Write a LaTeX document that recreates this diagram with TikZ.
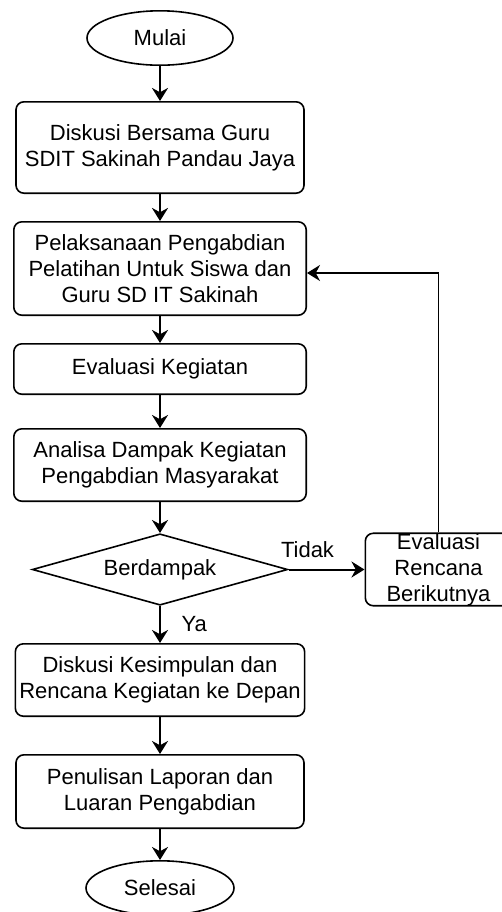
\documentclass[tikz,border=0pt]{standalone}
\usepackage{fontspec}
\setmainfont{Liberation Sans}
\usetikzlibrary{shapes.geometric, arrows.meta, positioning}

\begin{document}
\begin{tikzpicture}[
    node distance=14pt,
    box/.style={rectangle, rounded corners=4pt, draw=black, line width=0.8pt, minimum width=144pt, inner sep=2pt, align=center, font=\fontsize{11}{13}\selectfont},
    terminal/.style={ellipse, draw=black, line width=0.8pt, minimum width=73pt, minimum height=27.2pt, inner sep=0pt, font=\fontsize{11}{13}\selectfont},
    decision/.style={diamond, draw=black, line width=0.8pt, minimum width=127.7pt, minimum height=35.7pt, aspect=3.5, inner sep=0pt, font=\fontsize{11}{13}\selectfont},
    arrow/.style={-{Stealth[length=6.5pt, width=8pt]}, line width=1pt, black},
    answer/.style={font=\fontsize{11}{13}\selectfont}
]
\useasboundingbox (0,0) rectangle (251pt,-456pt);
\clip (0,0) rectangle (251pt,-456pt);

% Main column
\node[terminal] (mulai) at (80pt,-19pt) {Mulai};
\node[box, minimum height=45.7pt, below=17.5pt of mulai] (diskusi) {Diskusi Bersama Guru\\SDIT Sakinah Pandau Jaya};
\node[box, minimum width=146.2pt, minimum height=46.7pt, below=13.5pt of diskusi] (pelaksanaan) {Pelaksanaan Pengabdian\\Pelatihan Untuk Siswa dan\\Guru SD IT Sakinah};
\node[box, minimum width=146.2pt, minimum height=25.2pt, below=13.5pt of pelaksanaan] (evaluasi) {Evaluasi Kegiatan};
\node[box, minimum width=146.2pt, minimum height=36.2pt, below=16.5pt of evaluasi] (analisa) {Analisa Dampak Kegiatan\\Pengabdian Masyarakat};
\node[decision, below=15.5pt of analisa] (dampak) {Berdampak};
\node[box, minimum height=36.2pt, below=18.5pt of dampak] (kesimpulan) {Diskusi Kesimpulan dan\\Rencana Kegiatan ke Depan};
\node[box, minimum height=36.7pt, below=18.5pt of kesimpulan] (laporan) {Penulisan Laporan dan\\Luaran Pengabdian};
\node[terminal, minimum width=74pt, below=15.5pt of laporan] (selesai) {Selesai};

% Side branch
\node[box, minimum width=73.2pt, minimum height=35.7pt, inner ysep=0pt, right=38pt of dampak] (rencana) {Evaluasi\\Rencana\\Berikutnya};

% Arrows - main flow
\draw[arrow] (mulai) -- (diskusi);
\draw[arrow] (diskusi) -- (pelaksanaan);
\draw[arrow] (pelaksanaan) -- (evaluasi);
\draw[arrow] (evaluasi) -- (analisa);
\draw[arrow] (analisa) -- (dampak);
\draw[arrow] (dampak) -- node[answer, right=7pt] {Ya} (kesimpulan);
\draw[arrow] (kesimpulan) -- (laporan);
\draw[arrow] (laporan) -- (selesai);

% Feedback loop
\draw[arrow] (dampak) -- node[answer, pos=0.25, above=2pt] {Tidak} (rencana);
\draw[arrow, line width=0.7pt] (rencana.north) |- ([yshift=-2.25pt]pelaksanaan.east);

\end{tikzpicture}
\end{document}
